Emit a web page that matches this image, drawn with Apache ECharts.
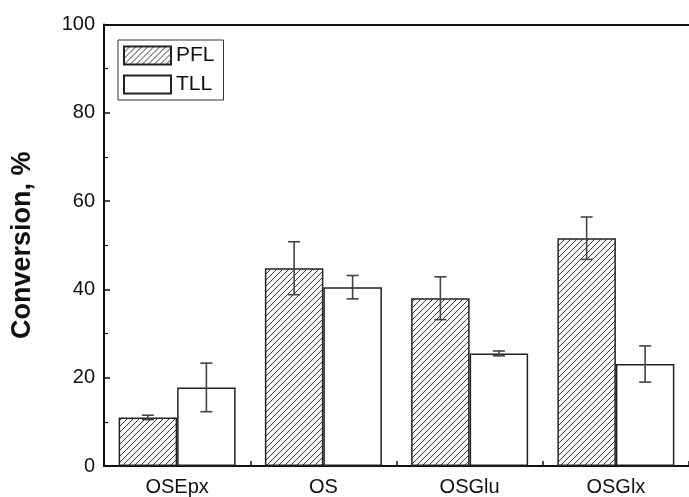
<!DOCTYPE html>
<html><head><meta charset="utf-8">
<script src="https://cdn.jsdelivr.net/npm/echarts@6/dist/echarts.min.js"></script>
<style>html,body{margin:0;padding:0;background:#fff}#c{width:689px;height:497px}</style>
</head><body><div id="c"></div>
<script>
var categories = ['OSEpx', 'OS', 'OSGlu', 'OSGlx'];
var pflValues = [11.0, 44.8, 38.0, 51.6];
var pflErrors = [0.5, 6.0, 4.85, 4.8];
var tllValues = [17.8, 40.5, 25.5, 23.1];
var tllErrors = [5.5, 2.65, 0.55, 4.1];
var yTicks = [0, 20, 40, 60, 80, 100];

function hatch() {
  var c = document.createElement('canvas');
  c.width = 6; c.height = 6;
  var g = c.getContext('2d');
  g.fillStyle = '#fff'; g.fillRect(0, 0, 6, 6);
  g.strokeStyle = '#222'; g.lineWidth = 0.9;
  g.beginPath();
  g.moveTo(0, 6); g.lineTo(6, 0);
  g.moveTo(-3, 3); g.lineTo(3, -3);
  g.moveTo(3, 9); g.lineTo(9, 3);
  g.stroke();
  return c;
}

function errData(vals, errs) {
  return vals.map(function (v, i) { return [i, v - errs[i], v + errs[i]]; });
}

function errRender(sign) {
  return function (params, api) {
    var xi = api.value(0);
    var lo = api.coord([xi, api.value(1)]);
    var hi = api.coord([xi, api.value(2)]);
    var band = api.size([1, 0])[0];
    var x = lo[0] + sign * band * 0.2;
    var cap = 6;
    var st = { stroke: '#444', lineWidth: 1.6 };
    return { type: 'group', children: [
      { type: 'line', shape: { x1: x, y1: lo[1], x2: x, y2: hi[1] }, style: st },
      { type: 'line', shape: { x1: x - cap, y1: lo[1], x2: x + cap, y2: lo[1] }, style: st },
      { type: 'line', shape: { x1: x - cap, y1: hi[1], x2: x + cap, y2: hi[1] }, style: st }
    ]};
  };
}

var font = 'Liberation Sans, Arial, sans-serif';
var chart = echarts.init(document.getElementById('c'));
chart.setOption({
  animation: false,
  backgroundColor: '#fff',
  grid: { left: 104, top: 24.5, bottom: 29, width: 596 },
  legend: {
    data: ['PFL', 'TLL'], orient: 'vertical', left: 118, top: 40,
    itemWidth: 47, itemHeight: 18, itemGap: 8,
    borderColor: '#333', borderWidth: 1, padding: [5, 9, 5, 5],
    textStyle: { fontFamily: font, fontSize: 21, color: '#111' },
    icon: 'rect'
  },
  xAxis: [{
    type: 'category', data: categories, boundaryGap: true,
    axisLine: { lineStyle: { color: '#111', width: 2 } },
    axisTick: { show: true, inside: true, length: 5, interval: 0, lineStyle: { color: '#111', width: 1.5 } },
    axisLabel: { fontFamily: font, fontSize: 20, color: '#111', margin: 11 }
  }, {
    type: 'category', data: categories, position: 'top',
    axisLine: { lineStyle: { color: '#111', width: 2 } },
    axisTick: { show: false }, axisLabel: { show: false }
  }],
  yAxis: {
    type: 'value', min: 0, max: 100, interval: 20,
    name: 'Conversion, %', nameLocation: 'middle', nameGap: 68,
    nameTextStyle: { fontFamily: font, fontSize: 27, fontWeight: 'bold', color: '#111' },
    axisLine: { show: true, lineStyle: { color: '#111', width: 2 } },
    axisTick: { show: true, inside: true, length: 6, lineStyle: { color: '#111', width: 1.5 } },
    minorTick: { show: true, splitNumber: 2, length: 4, lineStyle: { color: '#111', width: 1.2 } },
    splitLine: { show: false },
    axisLabel: { fontFamily: font, fontSize: 20, color: '#111', margin: 9,
      formatter: function (v) { return yTicks.indexOf(v) >= 0 ? String(v) : ''; } }
  },
  series: [{
    name: 'PFL', type: 'bar', data: pflValues, barGap: '0%', barCategoryGap: '20%',
    itemStyle: { color: { image: hatch(), repeat: 'repeat' }, borderColor: '#222', borderWidth: 1.5 }
  }, {
    name: 'TLL', type: 'bar', data: tllValues,
    itemStyle: { color: '#fff', borderColor: '#222', borderWidth: 1.5 }
  }, {
    name: 'PFL err', type: 'custom', data: errData(pflValues, pflErrors),
    encode: { x: 0, y: [1, 2] }, renderItem: errRender(-1), z: 5
  }, {
    name: 'TLL err', type: 'custom', data: errData(tllValues, tllErrors),
    encode: { x: 0, y: [1, 2] }, renderItem: errRender(1), z: 5
  }]
});
</script></body></html>
